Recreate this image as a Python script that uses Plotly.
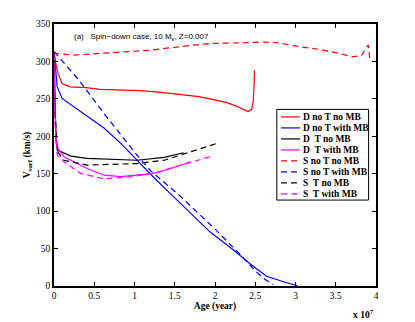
import plotly.graph_objects as go

# Age in units of 1e7 years, surface velocity in km/s
D_NOT_NOMB_AGE = [0, 0.02, 0.05, 0.1, 0.2, 0.4, 0.57, 1.07, 1.3, 1.6, 1.8, 1.98, 2.15, 2.27, 2.35, 2.41, 2.456, 2.476, 2.485, 2.49]
D_NOT_NOMB_V = [313, 298, 284, 270.6, 266, 265, 262.6, 261, 259, 256, 253, 249, 245, 240, 236, 233, 236, 248, 268, 288]

D_NOT_MB_AGE = [0, 0.02, 0.04, 0.1, 0.25, 0.41, 0.62, 0.83, 1.03, 1.24, 1.41, 1.94, 2.23, 2.43, 2.64, 2.77, 2.9, 3.02]
D_NOT_MB_V = [313, 290, 266, 250.6, 239, 226, 211, 190.5, 168, 145, 127, 72, 48, 30, 13, 8, 4, 0.5]

D_T_NOMB_AGE = [0, 0.01, 0.025, 0.04, 0.21, 0.41, 1.03, 1.37, 1.61]
D_T_NOMB_V = [313, 250, 195, 181.6, 173.6, 170.5, 168, 171.8, 178]

D_T_MB_AGE = [0, 0.01, 0.03, 0.06, 0.124, 0.41, 0.62, 0.83, 1.24, 1.45, 1.7]
D_T_MB_V = [313, 240, 190, 181.6, 172.6, 157, 148, 146, 150.5, 157, 166]

S_NOT_NOMB_AGE = [0, 0.03, 0.24, 0.7, 1.19, 1.73, 1.94, 2.39, 2.58, 2.77, 3.06, 3.30, 3.55, 3.70, 3.82, 3.86, 3.905, 3.925]
S_NOT_NOMB_V = [313, 310.6, 308.4, 312, 315, 321.8, 324, 325, 326, 325, 319.5, 316, 310.7, 306, 308, 315, 322, 301]

S_NOT_MB_AGE = [0, 0.31, 0.62, 1.03, 1.2, 1.57, 2.0, 2.35, 2.5, 2.62, 2.72]
S_NOT_MB_V = [313, 275, 230.6, 175, 154, 120, 76, 38, 20, 9, 2]

S_T_NOMB_AGE = [0, 0.01, 0.04, 0.124, 0.41, 1.03, 1.37, 1.70, 2.04]
S_T_NOMB_V = [313, 240, 180, 168, 161.5, 163.6, 168, 179, 191]

S_T_MB_AGE = [0, 0.01, 0.04, 0.124, 0.33, 0.62, 0.95, 1.24, 1.5, 1.75, 1.98]
S_T_MB_V = [313, 220, 175, 166, 150.5, 143, 146, 150.5, 159, 167, 174]

SERIES = [
    ('D no T no MB', D_NOT_NOMB_AGE, D_NOT_NOMB_V, 'red', 'solid'),
    ('D no T with MB', D_NOT_MB_AGE, D_NOT_MB_V, 'blue', 'solid'),
    ('D  T no MB', D_T_NOMB_AGE, D_T_NOMB_V, 'black', 'solid'),
    ('D  T with MB', D_T_MB_AGE, D_T_MB_V, 'magenta', 'solid'),
    ('S no T no MB', S_NOT_NOMB_AGE, S_NOT_NOMB_V, 'red', '6px,4px'),
    ('S no T with MB', S_NOT_MB_AGE, S_NOT_MB_V, 'blue', '6px,4px'),
    ('S  T no MB', S_T_NOMB_AGE, S_T_NOMB_V, 'black', '6px,4px'),
    ('S  T with MB', S_T_MB_AGE, S_T_MB_V, 'magenta', '6px,4px'),
]

serif = 'Liberation Serif, Times New Roman, serif'
sans = 'Liberation Sans, Arial, sans-serif'

fig = go.Figure()
for name, age, v, colour, dash in SERIES:
    fig.add_trace(go.Scatter(x=age, y=v, mode='lines', name=name,
                             line={'color': colour, 'width': 1.2, 'dash': dash}))

# MATLAB style legend box, drawn by hand so the rows stay tight
box = {'x0': 0.692, 'x1': 0.977, 'y0': 0.328, 'y1': 0.674}
fig.add_shape(type='rect', xref='paper', yref='paper', line={'color': 'black', 'width': 1},
              fillcolor='white', layer='above', **box)
row_h = 11 / 262
for i, (name, age, v, colour, dash) in enumerate(SERIES):
    y = box['y1'] - (7.5 / 262) - i * row_h
    fig.add_shape(type='line', xref='paper', yref='paper', x0=0.705, x1=0.764, y0=y, y1=y,
                  line={'color': colour, 'width': 1.2, 'dash': dash}, layer='above')
    fig.add_annotation(x=0.767, y=y, xref='paper', yref='paper', text=f'<b>{name}</b>',
                       showarrow=False, xanchor='left', yanchor='middle',
                       font={'family': serif, 'size': 9.5, 'color': 'black'})

fig.add_annotation(x=0.056, y=0.952, xref='paper', yref='paper', showarrow=False,
                   xanchor='left', yanchor='middle',
                   text='(a)&nbsp;&nbsp;&nbsp;Spin\u2212down case, 10 M<sub>s</sub>, Z=0.007',
                   font={'family': sans, 'size': 8, 'color': 'black'})
fig.add_annotation(x=1.0, y=-0.075, xref='paper', yref='paper', showarrow=False,
                   xanchor='right', yanchor='top', text='<b>x 10<sup>7</sup></b>',
                   font={'family': serif, 'size': 9.5, 'color': 'black'})

axis_style = dict(showline=True, linecolor='black', linewidth=1.5, mirror='ticks',
                  ticks='inside', ticklen=4, tickcolor='black', tickwidth=1,
                  showgrid=False, zeroline=False,
                  tickfont={'family': serif, 'size': 9.5, 'color': 'black'})

# the page keeps an 8px body margin, so the figure is shrunk by that much
fig.update_layout(
    width=407, height=314,
    margin={'l': 46, 'r': 39, 't': 16, 'b': 36},
    plot_bgcolor='white', paper_bgcolor='white',
    showlegend=False,
    xaxis=dict(range=[0, 4], dtick=0.5, tick0=0,
               title={'text': '<b>Age (year)</b>', 'standoff': 2,
                      'font': {'family': serif, 'size': 9.5, 'color': 'black'}},
               **axis_style),
    yaxis=dict(range=[0, 350], dtick=50, tick0=0,
               title={'text': '<b>V<sub>surf</sub> (km/s)</b>', 'standoff': 4,
                      'font': {'family': serif, 'size': 9.5, 'color': 'black'}},
               **axis_style),
)

fig.write_html('out.html')
